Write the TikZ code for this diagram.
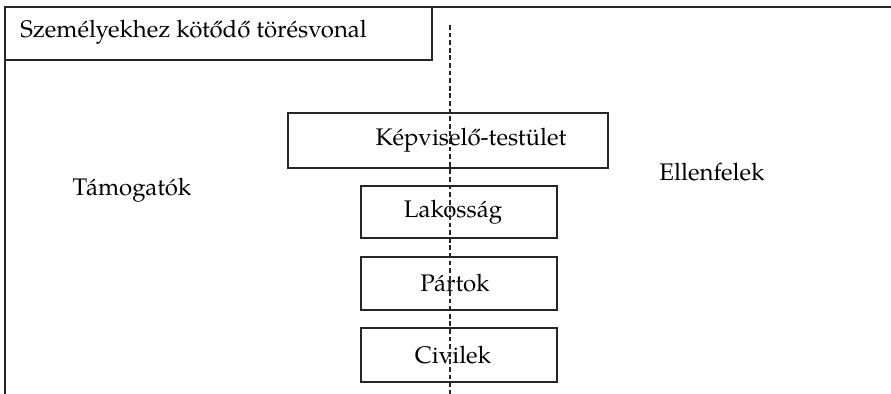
\documentclass[tikz,border=0pt]{standalone}
\usepackage{fontspec}
\setmainfont{TeX Gyre Pagella}
\begin{document}
\begin{tikzpicture}[x=0.5pt,y=-0.5pt,
  frame/.style={draw=black!85, line width=0.7pt},
  itembox/.style={draw=black!85, line width=0.7pt, rectangle, inner sep=0pt, font=\fontsize{12}{14}\selectfont},
  lbl/.style={inner sep=0pt, font=\fontsize{12}{14}\selectfont},
  divider/.style={draw=black!85, line width=1pt, dash pattern=on 2.4pt off 1.4pt}]
\useasboundingbox (0,0) rectangle (891,394);
% outer frame
\coordinate (ftl) at (5,7);
\coordinate (ftr) at (891,7);
\coordinate (fbl) at (5,394);
\draw[frame] (fbl) -- (ftl) -- (ftr);
% title box
\coordinate (tbr) at (432,60);
\draw[frame] (5,60) -- (tbr) -- (432,7);
\node[lbl, anchor=west] (title) at (20,32) {Személyekhez kötődő törésvonal};
% boxes
\node[itembox, minimum width=160pt, minimum height=27.5pt] (kt) at (448,140.5) {\hspace*{23pt}Képviselő-testület};
\node[itembox, minimum width=98pt, minimum height=26pt] (lak) at (459,212) {Lakosság\hspace*{6pt}};
\node[itembox, minimum width=98pt, minimum height=26.5pt] (part) at (459,283.5) {Pártok\hspace*{4pt}};
\node[itembox, minimum width=98pt, minimum height=27pt] (civ) at (459,355) {Civilek\hspace*{6pt}};
% side labels
\node[lbl] (tam) at (132,190) {Támogatók};
\node[lbl] (ell) at (712,172) {Ellenfelek};
% dashed divider
\coordinate (dtop) at (450,25);
\coordinate (dbot) at (450,394);
\draw[divider] (dtop) -- (dbot);
\end{tikzpicture}
\end{document}
